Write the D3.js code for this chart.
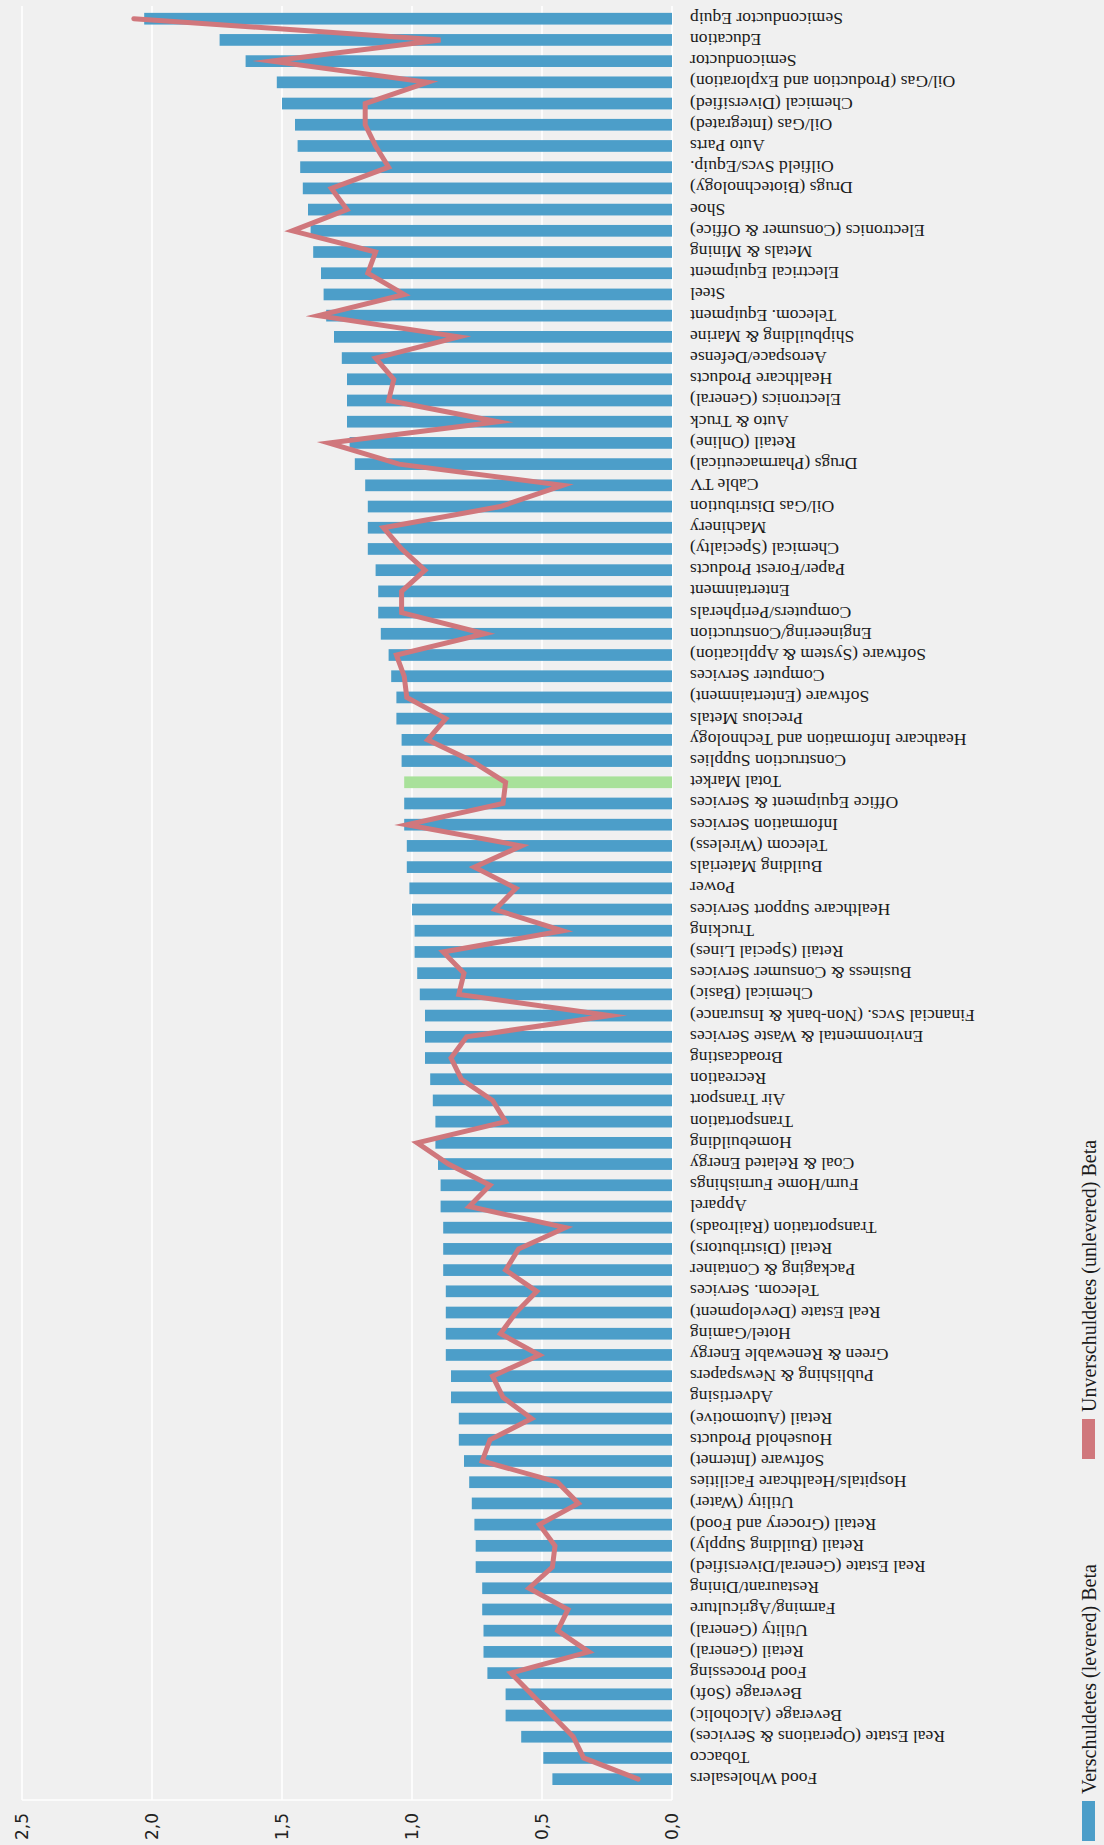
<!DOCTYPE html>
<html><head><meta charset="utf-8">
<script src="https://cdn.jsdelivr.net/npm/d3@7"></script>
<style>body{margin:0;background:#f0f0f0;} svg{display:block}</style>
</head><body>
<svg id="chart" width="1104" height="1845"></svg>
<script>
const categories = [
"Semiconductor Equip","Education","Semiconductor","Oil/Gas (Production and Exploration)","Chemical (Diversified)",
"Oil/Gas (Integrated)","Auto Parts","Oilfield Svcs/Equip.","Drugs (Biotechnology)","Shoe",
"Electronics (Consumer & Office)","Metals & Mining","Electrical Equipment","Steel","Telecom. Equipment",
"Shipbuilding & Marine","Aerospace/Defense","Healthcare Products","Electronics (General)","Auto & Truck",
"Retail (Online)","Drugs (Pharmaceutical)","Cable TV","Oil/Gas Distribution","Machinery",
"Chemical (Specialty)","Paper/Forest Products","Entertainment","Computers/Peripherals","Engineering/Construction",
"Software (System & Application)","Computer Services","Software (Entertainment)","Precious Metals","Heathcare Information and Technology",
"Construction Supplies","Total Market","Office Equipment & Services","Information Services","Telecom (Wireless)",
"Building Materials","Power","Healthcare Support Services","Trucking","Retail (Special Lines)",
"Business & Consumer Services","Chemical (Basic)","Financial Svcs. (Non-bank & Insurance)","Environmental & Waste Services","Broadcasting",
"Recreation","Air Transport","Transportation","Homebuilding","Coal & Related Energy",
"Furn/Home Furnishings","Apparel","Transportation (Railroads)","Retail (Distributors)","Packaging & Container",
"Telecom. Services","Real Estate (Development)","Hotel/Gaming","Green & Renewable Energy","Publishing & Newspapers",
"Advertising","Retail (Automotive)","Household Products","Software (Internet)","Hospitals/Healthcare Facilities",
"Utility (Water)","Retail (Grocery and Food)","Retail (Building Supply)","Real Estate (General/Diversified)","Restaurant/Dining",
"Farming/Agriculture","Utility (General)","Retail (General)","Food Processing","Beverage (Soft)",
"Beverage (Alcoholic)","Real Estate (Operations & Services)","Tobacco","Food Wholesalers"
];
const leveredBeta = [
2.03,1.74,1.64,1.52,1.50, 1.45,1.44,1.43,1.42,1.40, 1.39,1.38,1.35,1.34,1.33,
1.30,1.27,1.25,1.25,1.25, 1.24,1.22,1.18,1.17,1.17, 1.17,1.14,1.13,1.13,1.12,
1.09,1.08,1.06,1.06,1.04, 1.04,1.03,1.03,1.03,1.02, 1.02,1.01,1.00,0.99,0.99,
0.98,0.97,0.95,0.95,0.95, 0.93,0.92,0.91,0.91,0.90, 0.89,0.89,0.88,0.88,0.88,
0.87,0.87,0.87,0.87,0.85, 0.85,0.82,0.82,0.80,0.78, 0.77,0.76,0.755,0.755,0.73,
0.73,0.725,0.725,0.71,0.64, 0.64,0.58,0.495,0.46
];
const unleveredBeta = [
2.07,0.89,1.54,0.94,1.18, 1.18,1.14,1.09,1.31,1.25, 1.46,1.14,1.17,1.03,1.36,
0.82,1.14,1.07,1.09,0.67, 1.32,1.05,0.42,0.66,1.11, 1.04,0.95,1.04,1.04,0.72,
1.06,1.03,1.02,0.87,0.94, 0.77,0.64,0.65,1.02,0.58, 0.76,0.60,0.68,0.42,0.88,
0.80,0.82,0.24,0.79,0.85, 0.81,0.69,0.64,0.98,0.86, 0.70,0.78,0.41,0.59,0.64,
0.52,0.60,0.66,0.51,0.69, 0.65,0.54,0.70,0.73,0.44, 0.36,0.51,0.45,0.46,0.55,
0.40,0.44,0.32,0.62,0.54, 0.46,0.38,0.34,0.13
];
const tickValues = [0, 0.5, 1, 1.5, 2, 2.5];
const tickLabels = ["0,0", "0,5", "1,0", "1,5", "2,0", "2,5"];
const highlightCategory = "Total Market";
const legendLabels = ["Verschuldetes (levered) Beta", "Unverschuldetes (unlevered) Beta"];

const W = 1104, H = 1845;
const svg = d3.select("#chart");
svg.append("rect").attr("width", W).attr("height", H).attr("fill", "#f0f0f0");

const x = d3.scaleLinear().domain([0, 2.5]).range([672, 22]);
const y = d3.scaleBand().domain(categories).range([3.35, 1794.5]).paddingInner(0.448).paddingOuter(0.448);
const bw = y.bandwidth();
const plotTop = 6, plotBottom = 1800;

// grid
svg.append("g").selectAll("line").data(tickValues).join("line")
  .attr("x1", d => x(d)).attr("x2", d => x(d))
  .attr("y1", plotTop).attr("y2", plotBottom)
  .attr("stroke", "#ffffff").attr("stroke-width", 1.6);
svg.append("line").attr("x1", x(2.5)).attr("x2", x(0)).attr("y1", plotBottom).attr("y2", plotBottom)
  .attr("stroke", "#ffffff").attr("stroke-width", 1.6);

// bars
const rows = categories.map((c, i) => ({c, lev: leveredBeta[i], unlev: unleveredBeta[i]}));
svg.append("g").selectAll("rect").data(rows).join("rect")
  .attr("x", d => x(d.lev)).attr("width", d => x(0) - x(d.lev))
  .attr("y", d => y(d.c)).attr("height", bw)
  .attr("fill", d => d.c === highlightCategory ? "#a8e19a" : "#4c9ec9");

// line
const line = d3.line().x(d => x(d.unlev)).y(d => y(d.c) + bw / 2);
svg.append("path").datum(rows).attr("d", line)
  .attr("fill", "none").attr("stroke", "#d0777c").attr("stroke-width", 5)
  .attr("stroke-linejoin", "miter").attr("stroke-miterlimit", 10).attr("stroke-linecap", "round");

// category labels (rotated 180)
svg.append("g").selectAll("text").data(rows).join("text")
  .attr("transform", d => `translate(690,${y(d.c) + bw / 2}) rotate(180)`)
  .attr("text-anchor", "end").attr("dominant-baseline", "central")
  .attr("font-family", "'Liberation Serif', serif").attr("font-size", 17.6).attr("fill", "#1a1a1a")
  .text(d => d.c);

// tick labels (rotated -90)
svg.append("g").selectAll("text").data(tickValues).join("text")
  .attr("transform", d => `translate(${x(d)},1813) rotate(-90)`)
  .attr("text-anchor", "end").attr("dominant-baseline", "central")
  .attr("font-family", "'DejaVu Sans', sans-serif").attr("font-size", 17).attr("fill", "#222")
  .text((d, i) => tickLabels[i]);

// legend
const legendColors = ["#4c9ec9", "#d0777c"];
const legendY = [1841, 1459];
const lg = svg.append("g");
legendLabels.forEach((lab, i) => {
  lg.append("rect").attr("x", 1082).attr("y", legendY[i] - 40).attr("width", 13).attr("height", 40)
    .attr("fill", legendColors[i]);
  lg.append("text").attr("transform", `translate(1089,${legendY[i] - 47}) rotate(-90)`)
    .attr("text-anchor", "start").attr("dominant-baseline", "central")
    .attr("font-family", "'Liberation Serif', serif").attr("font-size", 20).attr("fill", "#1a1a1a")
    .text(lab);
});
</script>
</body></html>
